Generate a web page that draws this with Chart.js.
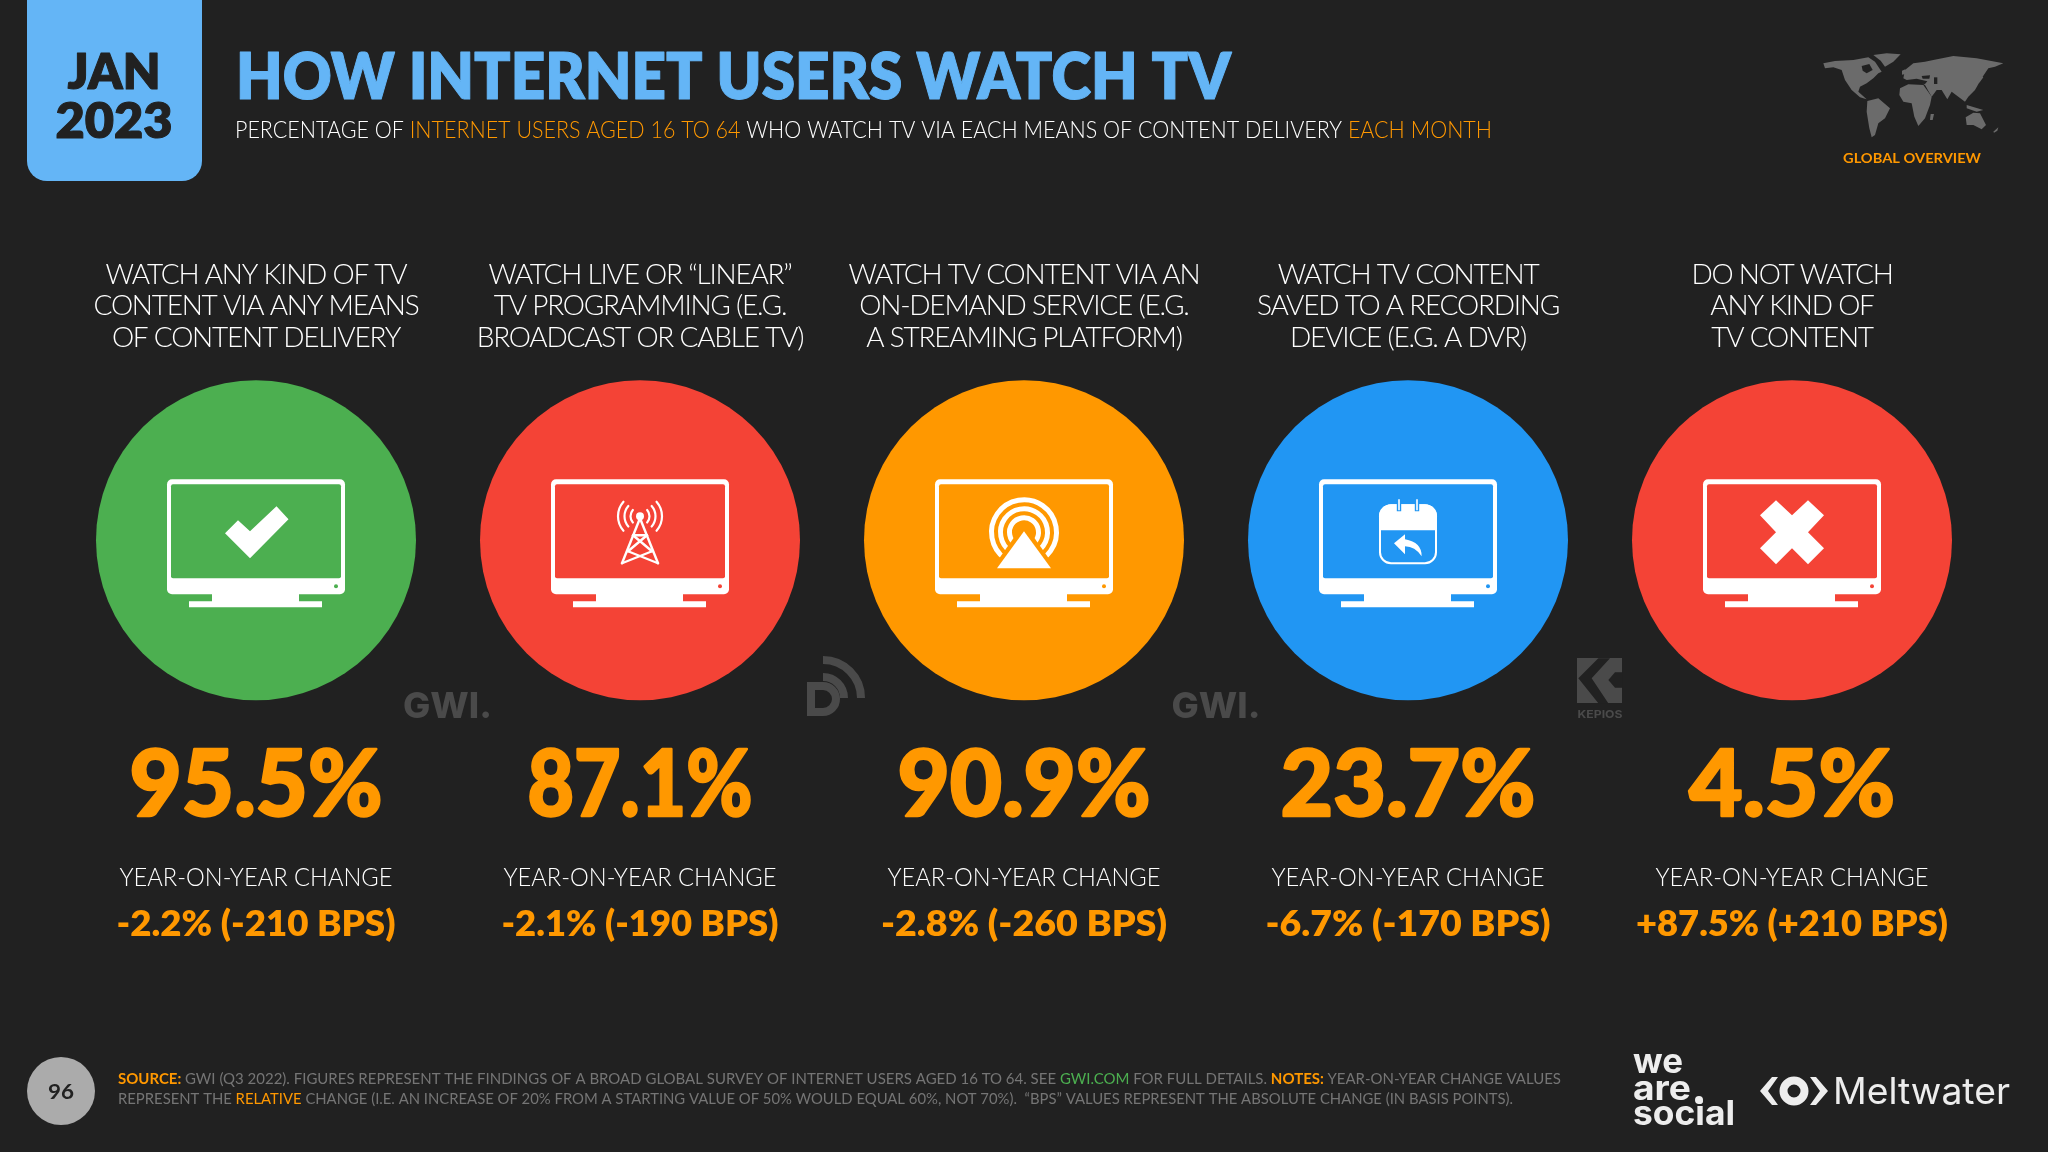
<!DOCTYPE html>
<html><head><meta charset="utf-8">
<style>html,body{margin:0;padding:0;background:#212121}canvas{display:block}</style>
<script src="https://cdn.jsdelivr.net/npm/chart.js@4/dist/chart.umd.min.js"></script>
</head><body>
<canvas id="c" width="2048" height="1152"></canvas>
<script>
const categories = [
  ['WATCH ANY KIND OF TV','CONTENT VIA ANY MEANS','OF CONTENT DELIVERY'],
  ['WATCH LIVE OR “LINEAR”','TV PROGRAMMING (E.G.','BROADCAST OR CABLE TV)'],
  ['WATCH TV CONTENT VIA AN','ON-DEMAND SERVICE (E.G.','A STREAMING PLATFORM)'],
  ['WATCH TV CONTENT','SAVED TO A RECORDING','DEVICE (E.G. A DVR)'],
  ['DO NOT WATCH','ANY KIND OF','TV CONTENT']
];
const shareValues = [95.5, 87.1, 90.9, 23.7, 4.5];
const yoyPercent = ['-2.2%', '-2.1%', '-2.8%', '-6.7%', '+87.5%'];
const yoyBps = ['-210', '-190', '-260', '-170', '+210'];
const circleColours = ['#4CAF50', '#F44336', '#FF9800', '#2196F3', '#F44336'];

const BG = '#212121', ORANGE = '#FF9800', BLUE = '#64B5F6', LOGO = '#4A4A4A', MAP = '#6B6B6B', NOTE = '#757575';
const FF = 'Lato';
const LIGHT = `300 28px ${FF}`;
const shareLabelWidths = [253, 225, 253, 255, 206];
const changeLabelWidths = [279, 277, 286, 285, 312];

function rich(ctx, segs, x, y, width, align) {
  ctx.save();
  ctx.textAlign = 'left'; ctx.textBaseline = 'alphabetic'; ctx.lineJoin = 'round';
  let total = 0;
  segs.forEach(s => { ctx.font = s[2]; total += ctx.measureText(s[0]).width; });
  const k = width ? width / total : 1;
  const w = total * k;
  const x0 = align === 'center' ? x - w / 2 : x;
  ctx.translate(x0, y); ctx.scale(k, 1);
  let cx = 0;
  segs.forEach(s => {
    ctx.font = s[2]; ctx.fillStyle = s[1];
    if (s[3]) { ctx.strokeStyle = s[1]; ctx.lineWidth = s[3]; ctx.strokeText(s[0], cx, 0); }
    ctx.fillText(s[0], cx, 0); cx += ctx.measureText(s[0]).width;
  });
  ctx.restore();
}
function poly(ctx, pts, fill) { ctx.beginPath(); pts.forEach((p, i) => i ? ctx.lineTo(p[0], p[1]) : ctx.moveTo(p[0], p[1])); ctx.closePath(); if (fill) ctx.fillStyle = fill; ctx.fill(); }

const icons = [
  (ctx) => poly(ctx, [[-31,-7],[-18,-20],[-6,-9],[20.5,-34],[32.5,-21],[-6,18]], '#fff'),
  (ctx) => {
    ctx.strokeStyle = '#fff'; ctx.lineWidth = 2.2; ctx.lineCap = 'round';
    [9.5, 15.5, 22].forEach(r => {
      const a = 0.72;
      ctx.beginPath(); ctx.arc(0, -24, r, -a, a); ctx.stroke();
      ctx.beginPath(); ctx.arc(0, -24, r, Math.PI - a, Math.PI + a); ctx.stroke();
    });
    ctx.fillStyle = '#fff'; ctx.beginPath(); ctx.arc(0, -24, 4, 0, 7); ctx.fill();
    ctx.lineWidth = 2.4;
    [[[0,-22],[-18,23]],[[0,-22],[18,23]],[[-7,-5],[7,-5]],[[-7,-5],[12,11]],[[7,-5],[-12,11]],[[-12,11],[18,23]],[[12,11],[-18,23]]].forEach(l => {
      ctx.beginPath(); ctx.moveTo(l[0][0], l[0][1]); ctx.lineTo(l[1][0], l[1][1]); ctx.stroke();
    });
  },
  (ctx, col) => {
    ctx.strokeStyle = '#fff'; ctx.lineWidth = 5;
    const s = 125 * Math.PI / 180, e = 55 * Math.PI / 180;
    [32.5, 23.5, 14.5].forEach(r => { ctx.beginPath(); ctx.arc(0, -8, r, s, e); ctx.stroke(); });
    poly(ctx, [[0,-17],[-36,34],[36,34]], col);
    poly(ctx, [[0,-9],[-27,28],[27,28]], '#fff');
  },
  (ctx, col) => {
    ctx.strokeStyle = '#fff'; ctx.lineWidth = 2;
    ctx.beginPath(); ctx.roundRect(-28, -35, 56, 58, 11); ctx.stroke();
    ctx.fillStyle = '#fff';
    ctx.beginPath(); ctx.roundRect(-29, -36, 58, 26, [12, 12, 0, 0]); ctx.fill();
    [-9, 9].forEach(x => {
      ctx.fillStyle = col; ctx.fillRect(x - 2.2, -42, 4.4, 13);
      ctx.fillStyle = '#fff'; ctx.fillRect(x - 0.8, -41, 1.6, 11);
    });
    ctx.fillStyle = '#fff';
    ctx.beginPath(); ctx.moveTo(-14, 3); ctx.lineTo(-3, -6); ctx.lineTo(-3, -1);
    ctx.quadraticCurveTo(14, 2, 13.6, 16); ctx.quadraticCurveTo(7, 6, -3, 6); ctx.lineTo(-3, 14); ctx.closePath(); ctx.fill();
  },
  (ctx) => poly(ctx, [[-16,-40],[0,-25],[16,-40],[32,-25],[16,-8],[32,8],[16,24],[0,8],[-16,24],[-32,8],[-16,-8],[-32,-25]], '#fff')
];

function drawMonitor(ctx, col) {
  ctx.fillStyle = '#fff';
  ctx.beginPath(); ctx.roundRect(-89, -61, 178, 115, 5); ctx.fill();
  ctx.fillStyle = col;
  ctx.beginPath(); ctx.roundRect(-85, -56, 170, 94, 2); ctx.fill();
  ctx.fillStyle = '#fff';
  ctx.fillRect(-44, 53, 87, 9); ctx.fillRect(-67, 61, 133, 6);
  ctx.fillStyle = col; ctx.beginPath(); ctx.arc(80, 46, 2, 0, 7); ctx.fill();
}

const mapShapes = [
  [[40,70],[75,63],[130,60],[175,52],[195,65],[215,95],[205,100],[190,115],[170,130],[150,140],[145,155],[170,178],[150,172],[125,150],[105,120],[95,90],[70,82],[45,85]],
  [[190,45],[230,40],[272,43],[250,65],[225,80],[212,62]],
  [[172,183],[205,175],[240,205],[225,235],[205,250],[195,285],[185,292],[178,265],[170,215]],
  [[270,145],[295,133],[340,135],[365,170],[360,195],[345,235],[325,258],[313,230],[305,190],[280,185],[268,165]],
  [[280,115],[285,90],[310,70],[345,65],[370,60],[430,48],[500,55],[580,70],[555,80],[535,85],[515,115],[495,150],[475,170],[465,185],[445,170],[425,155],[412,178],[395,150],[380,150],[365,170],[345,135],[330,125],[300,125]],
  [[467,232],[490,218],[510,220],[528,255],[515,268],[490,255],[470,255]],
  [[470,195],[520,210],[500,215],[470,205]],
  [[362,222],[372,222],[368,240],[360,240]],
  [[550,275],[565,262],[562,272],[552,278]],
  [[276,92],[286,88],[286,102],[276,104]],
  [[504,118],[514,108],[520,112],[508,128]]
];
const mapWaters = [
  [[155,78],[178,72],[188,90],[170,100],[158,92]],
  [[290,120],[320,116],[352,124],[345,132],[310,130],[292,130]],
  [[335,108],[360,106],[358,116],[338,116]],
  [[372,112],[382,112],[382,132],[372,132]]
];

function drawHeader(ctx) {
  ctx.fillStyle = BLUE;
  ctx.beginPath(); ctx.roundRect(27, -30, 175, 211, 20); ctx.fill();
  const date = '#212121';
  rich(ctx, [['JAN', date, `800 50px ${FF}`, 1]], 114, 89, 93, 'center');
  rich(ctx, [['2023', date, `800 50px ${FF}`, 1]], 114, 138, 117, 'center');
  rich(ctx, [['HOW INTERNET USERS WATCH TV', BLUE, `800 64px ${FF}`, 1]], 236, 99, 995);
  const sub = `300 24px ${FF}`;
  rich(ctx, [['PERCENTAGE OF ', '#fff', sub], ['INTERNET USERS AGED 16 TO 64', ORANGE, sub], [' WHO WATCH TV VIA EACH MEANS OF CONTENT DELIVERY ', '#fff', sub], ['EACH MONTH', ORANGE, sub]], 235, 138, 1257);
  ctx.save(); ctx.translate(1810, 40); ctx.scale(1 / 3, 1 / 3);
  mapShapes.forEach(p => poly(ctx, p, MAP));
  mapWaters.forEach(p => poly(ctx, p, BG));
  ctx.restore();
  rich(ctx, [['GLOBAL OVERVIEW', ORANGE, `700 14px ${FF}`]], 1912, 163, 138, 'center');
}

function drawFooter(ctx) {
  ctx.fillStyle = '#ABABAB'; ctx.beginPath(); ctx.arc(61, 1091, 34, 0, 7); ctx.fill();
  rich(ctx, [['96', '#212121', `700 21px ${FF}`]], 61, 1099, 26, 'center');
  const t = `400 15px ${FF}`, b = `700 15px ${FF}`;
  rich(ctx, [['SOURCE: ', ORANGE, b], ['GWI (Q3 2022). FIGURES REPRESENT THE FINDINGS OF A BROAD GLOBAL SURVEY OF INTERNET USERS AGED 16 TO 64. SEE ', NOTE, t], ['GWI.COM', '#4CAF50', t], [' FOR FULL DETAILS. ', NOTE, t], ['NOTES: ', ORANGE, b], ['YEAR-ON-YEAR CHANGE VALUES', NOTE, t]], 118, 1084, 1443);
  rich(ctx, [['REPRESENT THE ', NOTE, t], ['RELATIVE', ORANGE, t], [' CHANGE (I.E. AN INCREASE OF 20% FROM A STARTING VALUE OF 50% WOULD EQUAL 60%, NOT 70%).  “BPS” VALUES REPRESENT THE ABSOLUTE CHANGE (IN BASIS POINTS).', NOTE, t]], 118, 1104, 1395);
  const wl = '#EDEDED', ws = `700 34px Inter`;
  rich(ctx, [['we', wl, ws]], 1633, 1073, 50);
  rich(ctx, [['are', wl, ws]], 1633, 1100, 58);
  rich(ctx, [['social', wl, ws]], 1633, 1125, 102);
  ctx.fillStyle = wl; ctx.beginPath(); ctx.arc(1699, 1100, 4, 0, 7); ctx.fill();
  poly(ctx, [[1772,1077],[1778,1077],[1768,1091],[1778,1105],[1772,1105],[1760,1091]], wl);
  poly(ctx, [[1816,1077],[1810,1077],[1820,1091],[1810,1105],[1816,1105],[1828,1091]], wl);
  ctx.strokeStyle = wl; ctx.lineWidth = 8; ctx.beginPath(); ctx.arc(1794, 1091, 10.5, 0, Math.PI * 2); ctx.stroke();
  rich(ctx, [['Meltwater', wl, `400 37px Inter`]], 1833, 1104, 177);
}

function drawSourceLogos(ctx) {
  [447.5, 1216].forEach(x => rich(ctx, [['GWI.', LOGO, `800 36px Inter`]], x, 718, 89, 'center'));
  ctx.save();
  ctx.strokeStyle = LOGO; ctx.lineWidth = 8; ctx.lineCap = 'butt';
  ctx.beginPath(); ctx.moveTo(811, 686); ctx.lineTo(823, 686); ctx.arc(823, 699, 13, -Math.PI / 2, Math.PI / 2); ctx.lineTo(811, 712); ctx.closePath(); ctx.stroke();
  ctx.beginPath(); ctx.arc(823, 698, 21, -Math.PI / 2, 0); ctx.stroke();
  ctx.beginPath(); ctx.arc(823, 698, 38, -Math.PI / 2, 0); ctx.stroke();
  ctx.restore();
  ctx.fillStyle = LOGO; ctx.fillRect(1577, 658, 45, 45);
  ctx.save(); ctx.translate(1560, 645); ctx.scale(1 / 3, 1 / 3);
  poly(ctx, [[115,40],[150,40],[95,100],[145,175],[115,175],[55,100]], BG);
  poly(ctx, [[187,82],[165,82],[145,105],[165,128],[187,128]], BG);
  ctx.restore();
  rich(ctx, [['KEPIOS', LOGO, `700 11px Inter`]], 1600, 718, 45, 'center');
}

const slidePlugin = {
  id: 'slide',
  beforeDraw(chart) {
    const ctx = chart.ctx;
    ctx.fillStyle = BG; ctx.fillRect(0, 0, chart.width, chart.height);
    drawHeader(ctx); drawFooter(ctx); drawSourceLogos(ctx);
    ctx.font = LIGHT;
    const s = 'CONTENT VIA ANY MEANS';
    ctx.letterSpacing = '0px';
    ctx.letterSpacing = ((325 - ctx.measureText(s).width) / s.length).toFixed(2) + 'px';
  },
  afterDatasetsDraw(chart) {
    const ctx = chart.ctx;
    ctx.letterSpacing = '0px';
    const meta = chart.getDatasetMeta(0);
    const big = `900 92px ${FF}`, lab = `300 26px ${FF}`, chg = `800 36px ${FF}`;
    meta.data.forEach((el, i) => {
      ctx.save(); ctx.translate(el.x, el.y);
      drawMonitor(ctx, circleColours[i]);
      icons[i](ctx, circleColours[i]);
      ctx.restore();
      const a = shareValues[i].toFixed(1) + '%';
      const c = `${yoyPercent[i]} (${yoyBps[i]} BPS)`;
      rich(ctx, [[a, ORANGE, big, 2.5]], el.x, 816, shareLabelWidths[i], 'center');
      rich(ctx, [['YEAR-ON-YEAR CHANGE', '#fff', lab]], el.x, 886, 273, 'center');
      rich(ctx, [[c, ORANGE, chg]], el.x, 936, changeLabelWidths[i], 'center');
    });
  }
};

new Chart(document.getElementById('c'), {
  type: 'bubble',
  plugins: [slidePlugin],
  data: {
    labels: categories,
    datasets: [{
      data: categories.map((c, i) => ({ x: i, y: 0, r: 160 })),
      backgroundColor: circleColours,
      borderWidth: 0,
      clip: false
    }]
  },
  options: {
    responsive: false,
    animation: false,
    events: [],
    layout: { autoPadding: false, padding: { left: 64, right: 64, top: 239, bottom: 453 } },
    plugins: { legend: { display: false }, tooltip: { enabled: false } },
    scales: {
      x: {
        type: 'category', position: 'top', offset: true,
        grid: { display: false }, border: { display: false },
        afterFit(scale) { scale.paddingLeft = 0; scale.paddingRight = 0; },
        ticks: { autoSkip: false, maxRotation: 0, minRotation: 0, color: '#fff', padding: 20,
          font: { family: FF, size: 28, weight: '300', lineHeight: 1.125 } }
      },
      y: { min: -1, max: 1, display: false }
    }
  }
});
</script>
</body></html>
